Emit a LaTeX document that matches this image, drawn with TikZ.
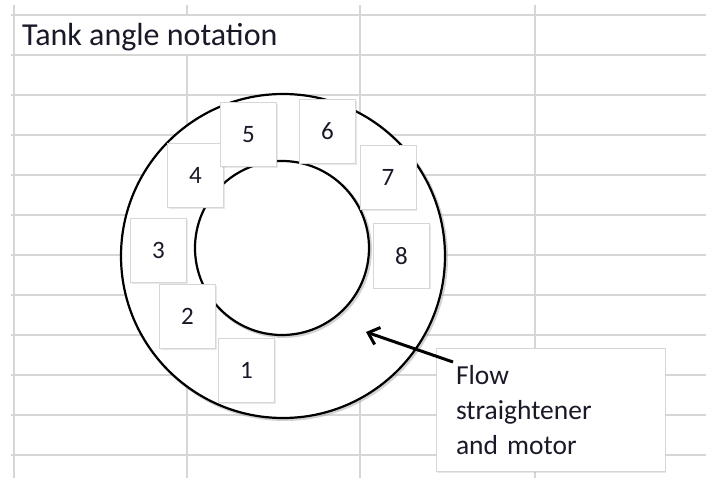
\documentclass[tikz,border=0pt]{standalone}
\usepackage{fontspec}
\setmainfont{Carlito}
\usetikzlibrary{arrows.meta,calc,shadows}
\definecolor{gridc}{RGB}{214,214,214}
\definecolor{boxc}{RGB}{214,214,214}
\definecolor{inkc}{RGB}{25,25,40}
\begin{document}
\begin{tikzpicture}[x=1pt,y=-1pt,
  gridline/.style={draw=gridc,line width=1.6pt},
  shade ring/.style={draw=black!35,line width=3pt,opacity=0.5},
  ring/.style={draw=black,line width=2.2pt},
  numbox/.style={draw=boxc,line width=1pt,fill=white,minimum width=56pt,minimum height=64pt,inner sep=0pt,
    text=inkc,font=\fontsize{25}{30}\selectfont,
    drop shadow={shadow xshift=1.2pt,shadow yshift=-1.2pt,opacity=0.18}},
  notebox/.style={draw=boxc,line width=1pt,fill=white,minimum width=229pt,minimum height=123pt,
    text width=189pt,align=left,inner xsep=20pt,inner ysep=0pt,
    text=inkc,font=\fontsize{27.5}{35}\selectfont,
    drop shadow={shadow xshift=1.2pt,shadow yshift=-1.2pt,opacity=0.18}},
  pointer/.style={draw=black,line width=3pt,-{Straight Barb[length=10pt,width=18pt]}}]
\useasboundingbox (0,0) rectangle (706,478);
\fill[white] (0,0) rectangle (706,478);
% grid
\foreach \yy in {15,55,...,455} \draw[gridline] (11,\yy) -- (706,\yy);
\draw[gridline] (14,5) -- (14,478);
\draw[gridline] (187,5) -- (187,15);
\draw[gridline] (187,55) -- (187,478);
\draw[gridline] (360,5) -- (360,478);
\draw[gridline] (535,5) -- (535,478);
% title
\node[anchor=base west,inner sep=0pt,text=inkc,font=\fontsize{32}{36}\selectfont] (title) at (22,46) {Tank angle notation};
% tank rings
\coordinate (oc) at (283,256);
\coordinate (ic) at (282,248);
\draw[shade ring] ($(oc)+(1.5,1.5)$) circle[radius=162];
\fill[white] (oc) circle[radius=162];
\draw[ring] (oc) circle[radius=162];
\draw[shade ring] ($(ic)+(1.5,1.5)$) circle[radius=87];
\draw[ring,fill=white] (ic) circle[radius=87];
% angle boxes
\node[numbox] (n1) at (246.5,370.5) {1};
\node[numbox] (n2) at (187.5,316.5) {2};
\node[numbox] (n3) at (158.5,250.5) {3};
\node[numbox] (n4) at (195.5,175.5) {4};
\node[numbox] (n5) at (248.5,134.5) {5};
\node[numbox] (n6) at (327.5,131.5) {6};
\node[numbox] (n7) at (388,177.5) {7};
\node[numbox] (n8) at (401.5,256) {8};
% note
\node[notebox] (note) at (550.5,410) {Flow\\straightener\\and motor};
\coordinate (astart) at (453,362);
\coordinate (atip) at (366,332);
\draw[pointer] (astart) -- (atip);
\end{tikzpicture}
\end{document}
